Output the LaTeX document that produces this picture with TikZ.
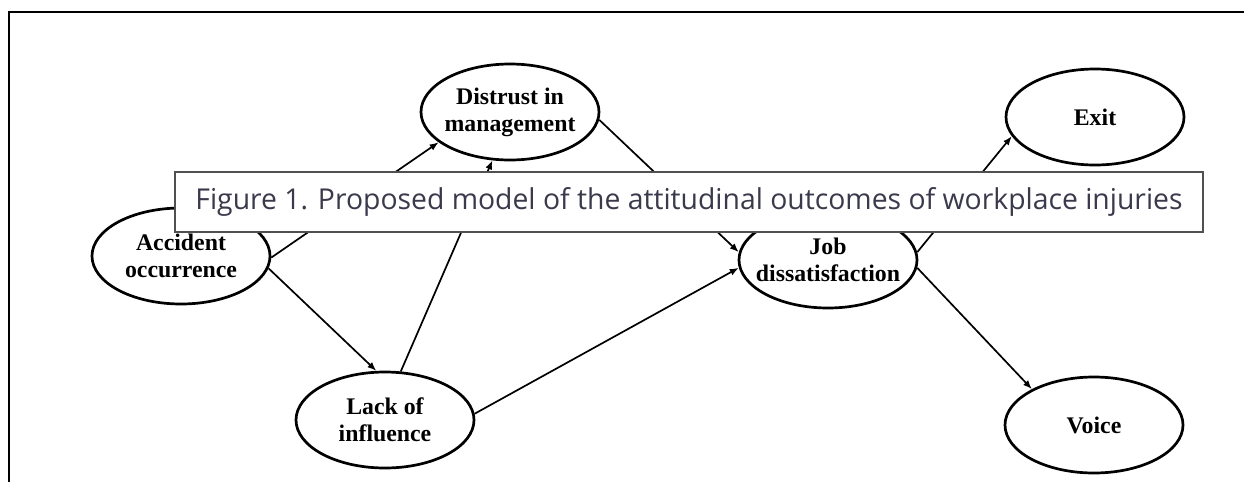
\documentclass[tikz,border=0pt]{standalone}
\usepackage{fontspec}
\setmainfont{Liberation Serif}
\newfontfamily\capfont{Open Sans}
\usetikzlibrary{shapes.geometric,arrows.meta}
\definecolor{captext}{RGB}{58,58,76}
\definecolor{capframe}{RGB}{80,80,80}
\begin{document}
\begin{tikzpicture}[x=1pt,y=-1pt,
  var/.style={ellipse, draw, line width=2.7pt, minimum width=178pt,
    minimum height=96pt, inner sep=0pt},
  vartext/.style={align=center, inner sep=0pt,
    font=\fontsize{23.8}{27}\selectfont\bfseries},
  link/.style={line width=1.7pt, -{Latex[length=9pt,width=7pt]}},
  capbox/.style={draw=capframe, fill=white, line width=1.4pt,
    minimum width=1028pt, minimum height=60pt, inner sep=0pt,
    text=captext}]
\useasboundingbox (0,0) rectangle (1244,482);
% page frame (top and left edges)
\draw[line width=2pt] (9,482) -- (9,11.5) -- (1244,11.5);

% variables of the model
\node[var, label={[vartext]center:Distrust in\\management}] (dis) at (510,112) {};
\node[var, label={[vartext]center:Accident\\occurrence}] (acc) at (181,256) {};
\node[var, label={[vartext]center:Lack of\\influence}] (lack) at (385,420) {};
\node[var, label={[vartext]center:Job\\dissatisfaction}] (job) at (828,260) {};
\node[var, label={[vartext]center:Exit}] (exit) at (1095,117) {};
\node[var, label={[vartext]center:Voice}] (voice) at (1094,425) {};

% paths
\draw[link] (acc.-1) -- (dis.203);
\draw[link] (acc.-8) -- (lack.100);
\draw[link] (lack.72) -- (dis.250);
\draw[link] (dis.-5) -- (job.175);
\draw[link] (lack.4) -- (job.185);
\draw[link] (job.5) -- (exit.193);
\draw[link] (job.-5) -- (voice.150);

% caption box lying over the figure
\node[capbox] (cap) at (689,202)
  {\raisebox{-3pt}{\resizebox{987pt}{22pt}{\capfont Figure 1. Proposed model of the attitudinal outcomes of workplace injuries}}};
\end{tikzpicture}
\end{document}
